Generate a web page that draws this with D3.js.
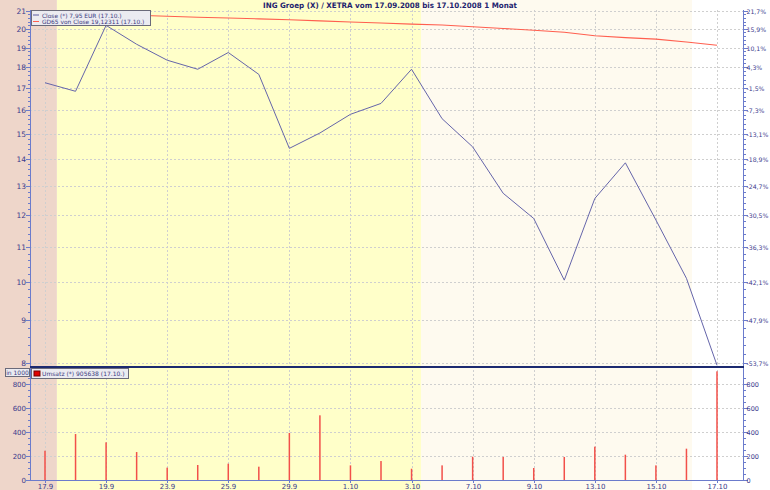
<!DOCTYPE html>
<html><head><meta charset="utf-8">
<script src="https://cdn.jsdelivr.net/npm/d3@7"></script>
<style>body{margin:0;background:#fff}svg{display:block}text{font-family:"DejaVu Sans",Verdana,sans-serif}</style>
</head><body><svg id="c" width="770" height="490"></svg>
<script>
const days = ["17.9","18.9","19.9","22.9","23.9","24.9","25.9","26.9","29.9","30.9","1.10","2.10","3.10","6.10","7.10","8.10","9.10","10.10","13.10","14.10","15.10","16.10","17.10"];
const closeVals = [17.25,16.85,20.19,19.17,18.35,17.90,18.74,17.65,14.41,15.03,15.82,16.30,17.90,15.63,14.47,12.74,11.89,10.04,12.56,13.85,11.84,10.09,7.95];
const gd65Vals = [20.81,20.80,20.77,20.76,20.70,20.64,20.60,20.55,20.50,20.44,20.38,20.32,20.26,20.21,20.11,20.02,19.92,19.81,19.62,19.52,19.44,19.29,19.12];
const volumeVals = [244,383,314,233,103,125,136,111,392,539,122,158,94,122,194,192,100,192,278,211,122,261,905.6];
const xTickLabels = ["17.9","19.9","23.9","25.9","29.9","1.10","3.10","7.10","9.10","13.10","15.10","17.10"];
const priceTicks = [8,9,10,11,12,13,14,15,16,17,18,19,20,21];
const pctLabels = ["-53,7%","-47,9%","-42,1%","-36,3%","-30,5%","-24,7%","-18,9%","-13,1%","-7,3%","-1,5%","4,3%","10,1%","15,9%","21,7%"];
const volTicks = [0,200,400,600,800];
const bandBreaks = [0.39, 12.31, 21.18];
const bandColors = ["#eed6ca","#ffffc9","#fefaef","#ffffff"];

const W=770,H=490, L=30, R=743, TOP=10, SEP=367, BOT=480;
const svg = d3.select("#c");
const x = d3.scaleLinear().domain([0,22]).range([45,717]);
const y = d3.scaleLog().domain([8,21]).range([363,11]);
const yv = d3.scaleLinear().domain([0,800]).range([BOT,384]);
const idx = d => days.indexOf(d);

// background bands
const edges = [x.invert(0), ...bandBreaks, x.invert(W)];
bandColors.forEach((c,i)=>{
  svg.append("rect").attr("x",x(edges[i])).attr("y",0)
    .attr("width",x(edges[i+1])-x(edges[i])).attr("height",H).attr("fill",c);
});

// grid
const grid = svg.append("g").attr("stroke","#cfcfcf").attr("stroke-dasharray","2,2").attr("stroke-width",1);
priceTicks.forEach(t=>grid.append("line").attr("x1",L).attr("x2",R).attr("y1",Math.round(y(t))+0.5).attr("y2",Math.round(y(t))+0.5));
volTicks.slice(1).forEach(t=>grid.append("line").attr("x1",L).attr("x2",R).attr("y1",Math.round(yv(t))+0.5).attr("y2",Math.round(yv(t))+0.5));
xTickLabels.forEach(d=>{
  const xx=Math.round(x(idx(d)))+0.5;
  grid.append("line").attr("x1",xx).attr("x2",xx).attr("y1",TOP).attr("y2",BOT);
});

// volume bars
svg.append("g").selectAll("rect").data(volumeVals).join("rect")
  .attr("x",(d,i)=>x(i)-0.75).attr("width",1.5)
  .attr("y",d=>yv(d)).attr("height",d=>BOT-yv(d)).attr("fill","#f2504a");

// lines
const lineGen = vals => d3.line().x((d,i)=>x(i)).y(d=>y(d))(vals);
svg.append("path").attr("d",lineGen(gd65Vals)).attr("fill","none").attr("stroke","#ff5f4f").attr("stroke-width",1.1);
svg.append("path").attr("d",lineGen(closeVals)).attr("fill","none").attr("stroke","#6565aa").attr("stroke-width",1);

// axes
const axisCol="#6b7bcc", txtCol="#3a3a8c";
const ax = svg.append("g");
ax.append("line").attr("x1",L+0.5).attr("x2",L+0.5).attr("y1",TOP).attr("y2",BOT).attr("stroke",axisCol);
ax.append("line").attr("x1",R+0.5).attr("x2",R+0.5).attr("y1",TOP).attr("y2",BOT).attr("stroke",axisCol);
ax.append("line").attr("x1",L).attr("x2",R+1).attr("y1",BOT+0.5).attr("y2",BOT+0.5).attr("stroke",axisCol);
ax.append("line").attr("x1",L).attr("x2",R+1).attr("y1",SEP).attr("y2",SEP).attr("stroke","#1c2a70").attr("stroke-width",2);

// minor ticks
d3.range(8,21.01,0.2).forEach(v=>{
  const yy=Math.round(y(v))+0.5;
  ax.append("line").attr("x1",L-2).attr("x2",L).attr("y1",yy).attr("y2",yy).attr("stroke",axisCol);
  ax.append("line").attr("x1",R+1).attr("x2",R+3).attr("y1",yy).attr("y2",yy).attr("stroke",axisCol);
});
d3.range(0,900,50).forEach(v=>{
  const yy=Math.round(yv(v))+0.5;
  if (yy<SEP+2) return;
  ax.append("line").attr("x1",L-2).attr("x2",L).attr("y1",yy).attr("y2",yy).attr("stroke",axisCol);
  ax.append("line").attr("x1",R+1).attr("x2",R+3).attr("y1",yy).attr("y2",yy).attr("stroke",axisCol);
});
priceTicks.forEach((t,i)=>{
  const yy=Math.round(y(t))+0.5;
  ax.append("line").attr("x1",L-4).attr("x2",L).attr("y1",yy).attr("y2",yy).attr("stroke",axisCol);
  ax.append("line").attr("x1",R+1).attr("x2",R+5).attr("y1",yy).attr("y2",yy).attr("stroke",axisCol);
  ax.append("text").attr("x",26).attr("y",yy+2.5).attr("text-anchor","end").attr("font-size",7.5).attr("fill",txtCol).text(t);
  ax.append("text").attr("x",746.5).attr("y",yy+2.5).attr("font-size",6.2).attr("fill",txtCol).text(pctLabels[i]);
});
volTicks.forEach(t=>{
  const yy=Math.round(yv(t))+0.5;
  ax.append("line").attr("x1",L-4).attr("x2",L).attr("y1",yy).attr("y2",yy).attr("stroke",axisCol);
  ax.append("line").attr("x1",R+1).attr("x2",R+5).attr("y1",yy).attr("y2",yy).attr("stroke",axisCol);
  ax.append("text").attr("x",26).attr("y",yy+2.5).attr("text-anchor","end").attr("font-size",7).attr("fill",txtCol).text(t);
  ax.append("text").attr("x",746.5).attr("y",yy+2.5).attr("font-size",6.5).attr("fill",txtCol).text(t);
});
xTickLabels.forEach(d=>{
  const xx=Math.round(x(idx(d)))+0.5;
  ax.append("line").attr("x1",xx).attr("x2",xx).attr("y1",BOT).attr("y2",BOT+3).attr("stroke",axisCol);
  ax.append("text").attr("x",xx).attr("y",488.5).attr("text-anchor","middle").attr("font-size",7).attr("fill",txtCol).text(d);
});

// title
svg.append("text").attr("x",390).attr("y",8).attr("text-anchor","middle").attr("font-size",7.5).attr("font-weight","bold")
  .attr("fill","#1e1e6e").attr("textLength",254).attr("lengthAdjust","spacingAndGlyphs")
  .text("ING Groep (X) / XETRA vom 17.09.2008 bis 17.10.2008 1 Monat");

// legend main
const lg = svg.append("g");
lg.append("rect").attr("x",31.5).attr("y",10.5).attr("width",119).attr("height",15).attr("fill","#ebebf1").attr("stroke","#6a6a7a");
const legItems=[["Close (*) 7,95 EUR (17.10.)","#5a5aa0"],["GD65 von Close 19,12311 (17.10.)","#ff5f4f"]];
legItems.forEach((d,i)=>{
  const yy=16.5+i*6.5;
  lg.append("line").attr("x1",33).attr("x2",39).attr("y1",yy-1.5).attr("y2",yy-1.5).attr("stroke",d[1]).attr("stroke-width",1);
  lg.append("text").attr("x",42).attr("y",yy+1).attr("font-size",5.9).attr("fill","#3a3a80").text(d[0]);
});

// legend volume
const lv = svg.append("g");
lv.append("rect").attr("x",5.5).attr("y",368.5).attr("width",24).attr("height",8).attr("fill","#ebebf1").attr("stroke","#6a6a7a");
lv.append("text").attr("x",17.5).attr("y",375).attr("text-anchor","middle").attr("font-size",6).attr("fill","#3a3a80").text("in 1000");
lv.append("rect").attr("x",31.5).attr("y",368.5).attr("width",97).attr("height",10).attr("fill","#ebebf1").attr("stroke","#6a6a7a");
lv.append("rect").attr("x",34).attr("y",371).attr("width",6).attr("height",5).attr("fill","#e00000").attr("stroke","#700");
lv.append("text").attr("x",42).attr("y",376).attr("font-size",6).attr("fill","#3a3a80").text("Umsatz (*) 905638 (17.10.)");
</script></body></html>
